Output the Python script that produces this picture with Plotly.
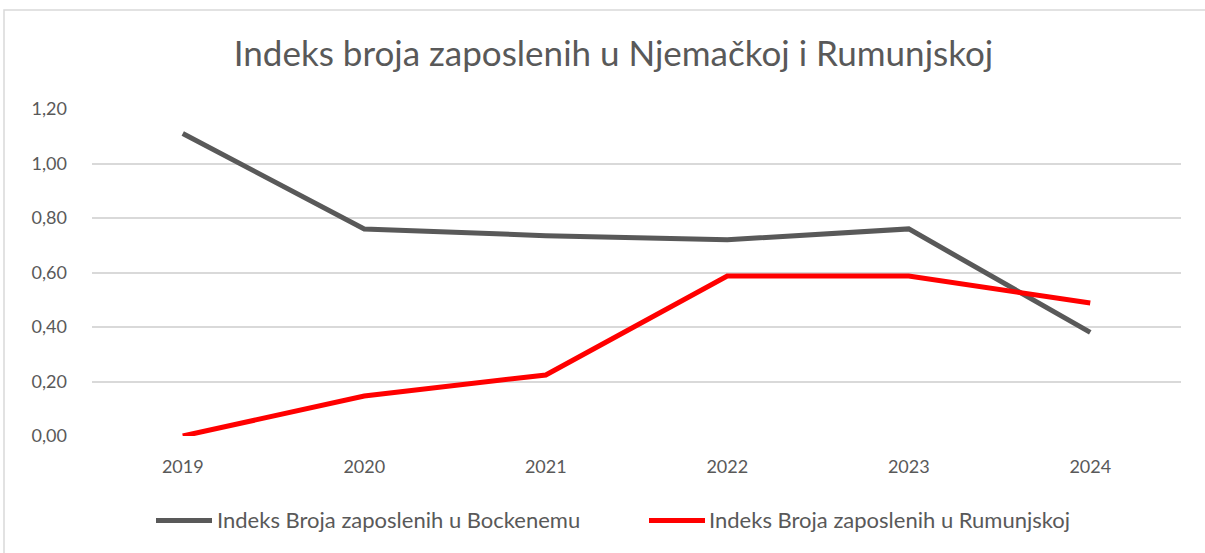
import plotly.graph_objects as go

years = ["2019", "2020", "2021", "2022", "2023", "2024"]
bockenem = [1.11, 0.76, 0.735, 0.72, 0.76, 0.38]
rumunjska = [0.00, 0.147, 0.224, 0.587, 0.587, 0.488]
y_ticks = [0, 0.2, 0.4, 0.6, 0.8, 1.0, 1.2]
y_labels = ["0,00", "0,20", "0,40", "0,60", "0,80", "1,00", "1,20"]
series_colors = ["#595959", "#ff0000"]
series_names = ["Indeks Broja zaposlenih u Bockenemu",
                "Indeks Broja zaposlenih u Rumunjskoj"]

W, H = 1205, 553
L, R, T, B = 92, 24, 109, 117
pw, ph = W - L - R, H - T - B

def px(x):
    return (x - L) / pw

def py(y):
    return (H - B - y) / ph

fig = go.Figure()
for vals, name, col in zip([bockenem, rumunjska], series_names, series_colors):
    fig.add_trace(go.Scatter(x=years, y=vals, mode="lines", name=name,
                             showlegend=False,
                             line=dict(color=col, width=5)))
# legend entries (text only; key lines drawn as longer Excel-style strokes)
for name, col in zip(series_names, series_colors):
    fig.add_trace(go.Scatter(x=[None], y=[None], mode="lines", name=name,
                             line=dict(color="rgba(0,0,0,0)", width=0),
                             hoverinfo="skip"))

shapes = [dict(type="rect", xref="paper", yref="paper",
               x0=px(4), x1=px(1215), y0=py(565), y1=py(10),
               line=dict(color="#d9d9d9", width=1.5), layer="below")]
for start, col in zip([156, 649], series_colors):
    shapes.append(dict(type="line", xref="paper", yref="paper",
                       x0=px(start), x1=px(start + 56), y0=py(520.5), y1=py(520.5),
                       line=dict(color=col, width=5)))

fig.update_layout(
    width=W, height=H,
    margin=dict(l=L, r=R, t=T, b=B),
    paper_bgcolor="white", plot_bgcolor="white",
    font=dict(family="Lato", color="#595959", size=18),
    title=dict(text="Indeks broja zaposlenih u Njemačkoj i Rumunjskoj",
               x=613.5 / W, xanchor="center", y=1 - 54 / H, yanchor="middle",
               font=dict(family="Lato", size=35, color="#595959")),
    xaxis=dict(type="category", range=[-0.5, 5.5], showgrid=False,
               showline=False, ticks="", tickfont=dict(size=18),
               ticklabelstandoff=18, fixedrange=True),
    yaxis=dict(range=[0, 1.2], tickvals=y_ticks, ticktext=y_labels,
               gridcolor="#d9d9d9", gridwidth=1.5, zeroline=False,
               showline=False, ticks="", ticklabelstandoff=24,
               tickfont=dict(size=18)),
    legend=dict(orientation="h", x=px(669), xanchor="center",
                y=py(520), yanchor="middle", bgcolor="rgba(0,0,0,0)",
                font=dict(size=22, color="#595959"),
                entrywidth=447, entrywidthmode="pixels",
                itemwidth=30, tracegroupgap=0),
    showlegend=True,
    shapes=shapes,
)

fig.write_html("out.html", post_script="document.body.style.margin='0';",
               config={"displayModeBar": False})
